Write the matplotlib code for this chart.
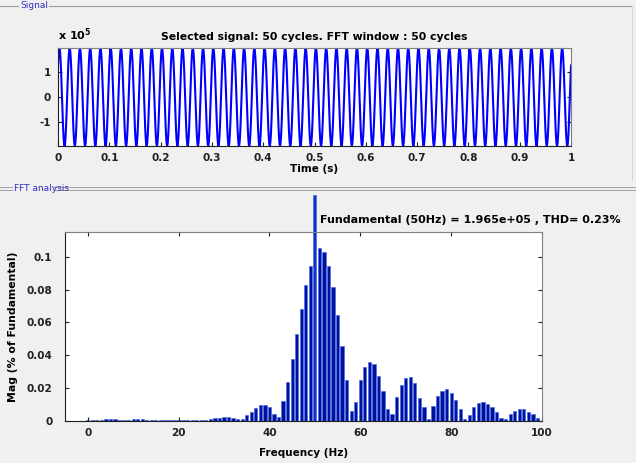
import numpy as np
import matplotlib
matplotlib.use('Agg')
import matplotlib.pyplot as plt
from matplotlib.lines import Line2D

# ---- data ----
sig_freq = 50          # Hz
sig_peak = 1.965e5     # fundamental peak
sig_phase = 0.7        # rad, start value ~ +1.3e5
sig_samples_per_cycle = 20
sig_cycles = 50

freqs = list(range(0, 100))
mags = [0.0006, 0.0006, 0.0006, 0.0006, 0.0010, 0.0010, 0.0010, 0.0006, 0.0006, 0.0006,
        0.0010, 0.0010, 0.0010, 0.0006, 0.0006, 0.0006, 0.0006, 0.0006, 0.0006, 0.0006,
        0.0006, 0.0006, 0.0006, 0.0006, 0.0006, 0.0006, 0.0006, 0.0012, 0.0016, 0.0020,
        0.0024, 0.0024, 0.0020, 0.0012, 0.0014, 0.0034, 0.0055, 0.0079, 0.0095, 0.0095,
        0.0085, 0.0045, 0.0024, 0.0124, 0.0237, 0.0380, 0.0530, 0.0684, 0.0826, 0.0941,
        0.1375, 0.1051, 0.1026, 0.0945, 0.0817, 0.0647, 0.0454, 0.0252, 0.0061, 0.0116,
        0.0247, 0.0327, 0.0357, 0.0345, 0.0276, 0.0185, 0.0075, 0.0045, 0.0146, 0.0221,
        0.0262, 0.0268, 0.0231, 0.0142, 0.0085, 0.0010, 0.0089, 0.0150, 0.0185, 0.0197,
        0.0170, 0.0130, 0.0075, 0.0014, 0.0039, 0.0083, 0.0112, 0.0116, 0.0103, 0.0085,
        0.0055, 0.0020, 0.0014, 0.0045, 0.0061, 0.0071, 0.0071, 0.0055, 0.0041, 0.0020]

title_top = 'Selected signal: 50 cycles. FFT window : 50 cycles'
fund_text = 'Fundamental (50Hz) = 1.965e+05 , THD= 0.23%'

plt.rcParams['font.family'] = 'DejaVu Sans'
plt.rcParams['font.weight'] = 'bold'

W, H = 636, 463
fig = plt.figure(figsize=(W / 100, H / 100), dpi=100, facecolor='#f0f0f0')

def fx(px):
    return px / W

def fy(py):
    return 1 - py / H

# panel headers
fig.add_artist(Line2D([fx(0), fx(18)], [fy(6), fy(6)], color='#a0a0a0', lw=0.8))
fig.add_artist(Line2D([fx(49), fx(632)], [fy(6), fy(6)], color='#a0a0a0', lw=0.8))
fig.add_artist(Line2D([fx(632), fx(632)], [fy(6), fy(180)], color='#d8d8d8', lw=0.8))
fig.text(fx(20), fy(6), 'Signal', color='#3030c0', fontsize=6.5, weight='normal', va='center')
for yy in (187, 190):
    fig.add_artist(Line2D([fx(0), fx(12)], [fy(yy), fy(yy)], color='#a0a0a0', lw=0.7))
    fig.add_artist(Line2D([fx(54), fx(636)], [fy(yy), fy(yy)], color='#a0a0a0', lw=0.7))
fig.text(fx(14), fy(188.5), 'FFT analysis', color='#3030c0', fontsize=6.5, weight='normal', va='center')

def style(ax):
    ax.tick_params(direction='in', top=True, right=True, labelsize=7.5, length=3,
                   pad=5, colors='#202020')
    for s in ('left', 'bottom'):
        ax.spines[s].set_color('#202020')
    for s in ('top', 'right'):
        ax.spines[s].set_color('#808080')
    for lab in ax.get_xticklabels() + ax.get_yticklabels():
        lab.set_fontweight('bold')

# ---- top: signal ----
ax1 = fig.add_axes([fx(58), fy(146), fx(571 - 58), (146 - 48) / H])
n = sig_samples_per_cycle * sig_cycles
t = np.arange(n + 1) / (sig_freq * sig_samples_per_cycle)
y = sig_peak * np.sin(2 * np.pi * sig_freq * t + sig_phase)
ax1.plot(t, y, color='#0000ff', lw=1.5)
ax1.set_xlim(0, 1)
ax1.set_ylim(-sig_peak, sig_peak)
ax1.set_xticks(np.arange(0, 1.01, 0.1))
ax1.set_xticklabels(['0', '0.1', '0.2', '0.3', '0.4', '0.5', '0.6', '0.7', '0.8', '0.9', '1'])
ax1.set_yticks([-1e5, 0, 1e5])
ax1.set_yticklabels(['-1', '0', '1'])
ax1.set_facecolor('white')
style(ax1)
ax1.set_xlabel('Time (s)', fontsize=7.5, fontweight='bold', labelpad=1)
ax1.set_title(title_top, fontsize=7.8, fontweight='bold', pad=6)
ax1.text(0, 1.05, r'x 10$^5$', transform=ax1.transAxes, fontsize=8, va='bottom', ha='left')

# ---- bottom: FFT ----
ax2 = fig.add_axes([fx(65), fy(421), fx(542 - 65), (421 - 232) / H])
bars = ax2.bar(freqs, mags, width=0.72, color='#0010a0', edgecolor='#4a6fe0',
               linewidth=0.5, clip_on=False)
bars[freqs.index(sig_freq)].set_facecolor('#1030d0')
ax2.set_xlim(-5, 100)
ax2.set_ylim(0, 0.115)
ax2.set_xticks([0, 20, 40, 60, 80, 100])
ax2.set_yticks([0, 0.02, 0.04, 0.06, 0.08, 0.1])
ax2.set_yticklabels(['0', '0.02', '0.04', '0.06', '0.08', '0.1'])
ax2.set_facecolor('white')
style(ax2)
ax2.tick_params(axis='y', pad=9)
ax2.set_xlabel('Frequency (Hz)', fontsize=7.5, fontweight='bold', labelpad=7)
ax2.set_ylabel('Mag (% of Fundamental)', fontsize=7.8, fontweight='bold', labelpad=6)
fig.text(fx(320), fy(220), fund_text, fontsize=8, fontweight='bold', va='center', ha='left')

fig.savefig('out.png', dpi=100, facecolor=fig.get_facecolor())
